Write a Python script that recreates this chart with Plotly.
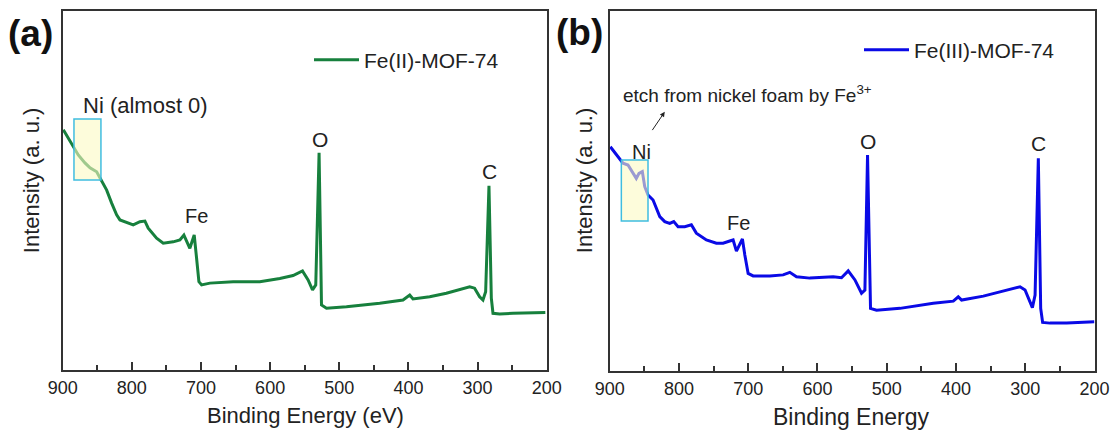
import plotly.graph_objects as go

# ---- data (binding energy in eV, intensity in arbitrary units) ----
fe2_energy = [899.1, 883.7, 877.5, 867.8, 860.5, 850.9, 844.7, 836.4, 829.2, 822.0, 817.2, 798.0,
              788.3, 781.1, 776.3, 764.2, 754.6, 740.2, 730.5, 724.7, 716.1, 709.8, 706.4, 703.0,
              699.1, 687.1, 653.5, 614.9, 586.0, 566.8, 553.2, 545.1, 538.7, 534.0, 529.2, 525.7,
              518.5, 489.6, 441.5, 407.8, 398.1, 393.4, 369.2, 345.1, 311.4, 304.3, 297.0, 292.2,
              288.3, 283.5, 280.1, 277.7, 268.0, 248.8, 202.0]
fe2_intensity = [66.9, 62.1, 59.9, 57.7, 56.3, 55.2, 52.9, 50.1, 46.5, 43.2, 41.8, 40.4,
                 41.3, 41.5, 39.5, 36.7, 35.3, 35.7, 36.2, 37.6, 33.9, 37.6, 31.2, 24.6,
                 23.7, 24.2, 24.6, 24.6, 25.5, 26.3, 27.6, 25.1, 22.3, 23.7, 60.5, 18.1,
                 17.2, 17.6, 18.6, 19.5, 20.9, 19.8, 20.4, 21.4, 23.2, 22.8, 20.4, 19.5,
                 21.8, 51.3, 20.0, 15.8, 15.6, 15.8, 16.0]

fe3_energy = [899.1, 888.0, 880.8, 873.6, 866.3, 861.6, 857.7, 852.9, 849.4, 844.7, 837.4, 827.7,
              820.5, 813.3, 807.5, 801.3, 791.6, 782.1, 774.9, 760.4, 746.0, 736.3, 726.6, 721.8,
              717.0, 708.4, 704.9, 700.1, 692.9, 668.8, 649.6, 639.9, 630.3, 611.0, 577.3, 565.3,
              555.6, 545.9, 536.4, 531.5, 527.7, 523.4, 514.7, 480.9, 432.8, 403.9, 396.7, 391.9,
              360.5, 336.4, 307.5, 300.3, 293.1, 289.7, 285.8, 281.1, 277.7, 274.9, 264.2, 240.2,
              200.1]
fe3_intensity = [62.3, 59.5, 57.7, 57.2, 54.9, 53.5, 54.9, 55.4, 51.2, 48.9, 47.5, 42.9,
                 41.5, 41.0, 41.5, 40.1, 40.1, 40.6, 38.3, 36.4, 35.5, 35.5, 36.1, 36.4,
                 33.3, 36.7, 32.2, 27.1, 26.4, 26.4, 26.7, 27.4, 26.2, 25.8, 26.2, 25.9,
                 27.8, 25.3, 21.6, 22.5, 60.0, 17.4, 16.9, 17.4, 18.8, 19.4, 20.6, 19.7,
                 20.8, 22.0, 23.4, 22.5, 18.8, 17.6, 21.1, 59.1, 17.4, 13.5, 13.3, 13.3,
                 13.7]

x_ticks = [900, 800, 700, 600, 500, 400, 300, 200]

GREEN = "#17803d"
BLUE = "#0a0ae6"
FONT = "Liberation Sans, Arial, sans-serif"
TXT = "#222222"

fig = go.Figure()
fig.add_trace(go.Scatter(x=fe2_energy, y=fe2_intensity, mode="lines", name="Fe(II)-MOF-74",
                         line=dict(color=GREEN, width=3), xaxis="x", yaxis="y", legend="legend"))
fig.add_trace(go.Scatter(x=fe3_energy, y=fe3_intensity, mode="lines", name="Fe(III)-MOF-74",
                         line=dict(color=BLUE, width=3), xaxis="x2", yaxis="y2", legend="legend2"))

W, H = 1113, 430
def px(x):
    return x / W
def py(y):
    return 1 - y / H

xax = dict(range=[900, 200], tickvals=x_ticks, ticks="inside", ticklen=8, tickwidth=1.5,
           tickcolor="#333", showline=True, linecolor="#333", linewidth=1.8, mirror=True,
           showgrid=False, zeroline=False, automargin=False,
           tickfont=dict(size=18, color=TXT, family=FONT),
           minor=dict(ticks="inside", ticklen=5, tickwidth=1.5, tickcolor="#333", dtick=50,
                      tick0=200, showgrid=False))
yax = dict(range=[0, 100], showticklabels=False, ticks="", showline=True, linecolor="#333",
           linewidth=1.8, mirror=True, showgrid=False, zeroline=False, automargin=False)

fig.update_layout(
    width=W, height=H, margin=dict(l=0, r=0, t=0, b=0, autoexpand=False),
    paper_bgcolor="white", plot_bgcolor="white",
    font=dict(family=FONT, color=TXT),
    xaxis=dict(domain=[px(62.7), px(546.7)], anchor="y", **xax),
    yaxis=dict(domain=[py(370), py(11)], anchor="x", **yax),
    xaxis2=dict(domain=[px(609.7), px(1094.5)], anchor="y2", **xax),
    yaxis2=dict(domain=[py(371), py(11)], anchor="x2", **yax),
    legend=dict(x=px(309), y=py(60), xanchor="left", yanchor="middle", itemwidth=45,
                bgcolor="rgba(0,0,0,0)", font=dict(size=21, color=TXT, family=FONT)),
    legend2=dict(x=px(859), y=py(50), xanchor="left", yanchor="middle", itemwidth=45,
                 bgcolor="rgba(0,0,0,0)", font=dict(size=21, color=TXT, family=FONT)),
    showlegend=True,
)

# highlight boxes for Ni region
fig.add_shape(type="rect", xref="x", yref="y", x0=883.7, x1=844.7, y0=52.9, y1=69.9,
              line=dict(color="#3fbde0", width=1.5), fillcolor="rgba(252,250,195,0.6)", layer="above")
fig.add_shape(type="rect", xref="x2", yref="y2", x0=883.2, x1=844.7, y0=41.7, y1=58.6,
              line=dict(color="#3fbde0", width=1.5), fillcolor="rgba(252,250,195,0.6)", layer="above")

def lab(text, x, y, xref, yref, size=19, xanchor="center", color=TXT, **kw):
    fig.add_annotation(text=text, x=x, y=y, xref=xref, yref=yref, showarrow=False,
                       xanchor=xanchor, yanchor="middle",
                       font=dict(size=size, color=color, family=FONT), **kw)

# panel (a) labels
lab("Ni (almost 0)", 779.6, 73.8, "x", "y", size=22)
lab("O", 528.2, 64.1, "x", "y", size=21)
lab("C", 282.5, 55.2, "x", "y", size=21)
lab("Fe", 705.9, 42.8, "x", "y", size=20)
# panel (b) labels
lab("Ni", 854.3, 60.9, "x2", "y2", size=20)
lab("O", 527.7, 63.7, "x2", "y2", size=21)
lab("C", 281.1, 63.1, "x2", "y2", size=21)
lab("Fe", 713.6, 41.0, "x2", "y2", size=20)
lab("etch from nickel foam by Fe<sup>3+</sup>", 883.2, 76.9, "x2", "y2", size=19, xanchor="left")
fig.add_annotation(x=820.5, y=72.0, ax=839.9, ay=66.5, xref="x2", yref="y2", axref="x2", ayref="y2",
                   text="", showarrow=True, arrowhead=2, arrowsize=1, arrowwidth=1, arrowcolor="#222")

# panel letters
lab("<b>(a)</b>", px(30), py(33), "paper", "paper", size=37, color="#111")
lab("<b>(b)</b>", px(579), py(32), "paper", "paper", size=37, color="#111")

# axis titles
lab("Binding Energy (eV)", px(305.8), py(415), "paper", "paper", size=22)
lab("Binding Energy", px(851.4), py(416.7), "paper", "paper", size=23)
lab("Intensity (a. u.)", px(31.7), py(180.5), "paper", "paper", size=22, textangle=-90)
lab("Intensity (a. u.)", px(584.7), py(180.5), "paper", "paper", size=22, textangle=-90)

fig.write_html("out.html")
